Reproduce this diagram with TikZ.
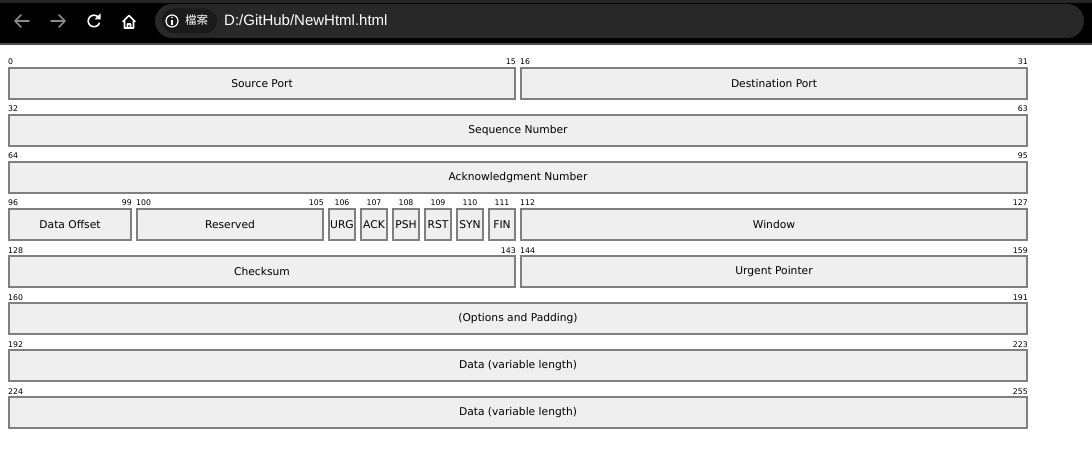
\documentclass[tikz,border=0pt]{standalone}
\usepackage{fontspec}
\usepackage{tikz}
\setmainfont{DejaVu Sans}
\newfontfamily\urlfont{Liberation Sans}
\newfontfamily\cjk{Noto Sans CJK TC}

\definecolor{boxgray}{HTML}{808080}
\definecolor{boxfill}{HTML}{EFEFEF}
\definecolor{pill}{HTML}{282828}
\definecolor{chip}{HTML}{1A1A1A}
\definecolor{navgray}{HTML}{8A8A8A}

\tikzset{
	field/.style = {draw = boxgray, fill = boxfill, line width = 2pt, inner sep = 0pt, font = \fontsize{10.7}{12}\selectfont},
	bitnum/.style = {inner sep = 0pt, font = \fontsize{7.8}{8}\selectfont},
	icon/.style = {line width = 1.6pt, line cap = round, line join = round}
}

\begin{document}
\begin{tikzpicture}[x = 1pt, y = -1pt]
		\useasboundingbox (0, 0) rectangle (1092, 465);
		% browser bar
		\fill[black] (0, 0) rectangle (1092, 43);
		\fill[black!85] (0, 0) rectangle (1092, 3);
		\fill[black!70] (0, 43) rectangle (1092, 45);
		\fill[pill, rounded corners = 17pt] (155, 4) rectangle (1084, 38);
		\fill[chip, rounded corners = 12pt] (162, 8.5) rectangle (217, 33.5);
		\draw[icon, navgray] (29, 21) -- (15, 21) (21, 15) -- (15, 21) -- (21, 27);
		\draw[icon, navgray] (51, 21) -- (65, 21) (59, 15) -- (65, 21) -- (59, 27);
		\draw[icon, white] (94, 21) ++(-50:5.8) arc[start angle = -50, end angle = -338, radius = 5.8];
		\fill[white] (100.5, 13.5) -- (100.5, 19.5) -- (94.5, 19.5) -- cycle;
		\draw[icon, white] (123, 21.5) -- (129, 15.5) -- (135, 21.5) (124.5, 20.5) -- (124.5, 28) -- (133.5, 28) -- (133.5, 20.5) (127.5, 28) -- (127.5, 24) -- (130.5, 24) -- (130.5, 28);
		\draw[white, line width = 1.2pt] (172, 21) circle (6);
		\fill[white] (172, 17.6) circle (0.9);
		\draw[white, line width = 1.4pt] (172, 19.8) -- (172, 25);
		\node[white, anchor = west, inner sep = 0pt, font = \cjk\fontsize{11.5}{12}\selectfont] (scheme) at (185, 20.5) {檔案};
		\node[white, anchor = west, inner sep = 0pt, font = \urlfont\fontsize{15}{16}\selectfont] (url) at (224, 20.5) {D:/GitHub/NewHtml.html};
		% header fields
		\foreach \r/\a/\b/\txt in {0/0/15/Source Port, 0/16/31/Destination Port, 1/0/31/Sequence Number, 2/0/31/Acknowledgment Number, 3/0/3/Data Offset, 3/4/9/Reserved, 3/10/10/URG, 3/11/11/ACK, 3/12/12/PSH, 3/13/13/RST, 3/14/14/SYN, 3/15/15/FIN, 3/16/31/Window, 4/0/15/Checksum, 4/16/31/Urgent Pointer, 5/0/31/{(Options and Padding)}, 6/0/31/Data (variable length), 7/0/31/Data (variable length)}
		{
			\pgfmathsetmacro{\xa}{8 + 32 * \a}
			\pgfmathsetmacro{\xb}{36 + 32 * \b}
			\pgfmathsetmacro{\yt}{67 + 47 * \r}
			\pgfmathtruncatemacro{\na}{32 * \r + \a}
			\pgfmathtruncatemacro{\nb}{32 * \r + \b}
			\node[field, minimum width = \xb - \xa - 2, minimum height = 31] (f\na) at ({(\xa + \xb) / 2}, \yt + 16.5) {\txt};
			\ifnum\a=\b
				\node[bitnum, anchor = base] (n\na) at ({(\xa + \xb) / 2}, \yt - 2) {\na};
			\else
				\node[bitnum, anchor = base west] (n\na) at (\xa, \yt - 2) {\na};
				\node[bitnum, anchor = base east] (n\nb) at (\xb, \yt - 2) {\nb};
			\fi
		}
	\end{tikzpicture}
\end{document}
